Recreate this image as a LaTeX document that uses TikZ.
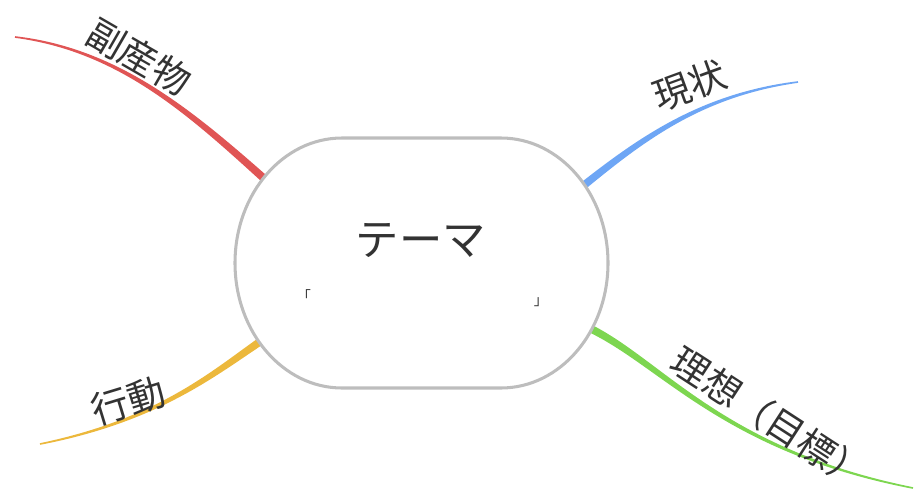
\documentclass[tikz,border=0pt]{standalone}
\usepackage{fontspec}
\newfontfamily\jpfont{Noto Sans CJK JP}
\usepackage{tikz}
\usetikzlibrary{calc}
\definecolor{ColRed}{RGB}{224,85,85}
\definecolor{ColBlue}{RGB}{110,166,245}
\definecolor{ColYellow}{RGB}{236,184,60}
\definecolor{ColGreen}{RGB}{125,214,80}
\definecolor{ColLine}{RGB}{189,189,189}
\definecolor{ColText}{RGB}{51,51,51}
\tikzstyle{ThemeBorder}=[draw=ColLine,fill=white,line width=2.6pt]
\tikzstyle{ThemeText}=[text=ColText,font=\jpfont\fontsize{37}{40}\selectfont,inner sep=0pt]
\tikzstyle{BracketText}=[text=ColText,font=\jpfont\fontsize{12}{14}\selectfont,inner sep=0pt]
\tikzstyle{BranchText}=[text=ColText,font=\jpfont\fontsize{32}{36}\selectfont,inner sep=0pt]
% tapered branch through the points #10..#13
\newcommand{\BranchFill}[2]{%
  \fill[#2]($(#10)!3.4pt!90:(#11)$) .. controls ($(#11)!2.6pt!-90:(#10)$) and ($(#12)!1.4pt!90:(#13)$) .. ($(#13)!.7pt!-90:(#12)$)
    -- ($(#13)!.7pt!90:(#12)$) .. controls ($(#12)!1.4pt!-90:(#13)$) and ($(#11)!2.6pt!90:(#10)$) .. ($(#10)!3.4pt!-90:(#11)$) -- cycle;}

\begin{document}
\begin{tikzpicture}[x=0.03cm,y=-0.03cm]
    \useasboundingbox(0,0)rectangle(914,494);
    % branch points
    \coordinate(r0)at(268,182);\coordinate(r1)at(192,114);\coordinate(r2)at(120,50);\coordinate(r3)at(15,37);
    \coordinate(b0)at(578,190);\coordinate(b1)at(640,140);\coordinate(b2)at(700,95);\coordinate(b3)at(798,82);
    \coordinate(y0)at(264,339);\coordinate(y1)at(215,372);\coordinate(y2)at(160,420);\coordinate(y3)at(40,444);
    \coordinate(g0)at(585,326);\coordinate(g1)at(660,360);\coordinate(g2)at(720,450);\coordinate(g3)at(913,488);
    \BranchFill{r}{ColRed}
    \BranchFill{b}{ColBlue}
    \BranchFill{y}{ColYellow}
    \BranchFill{g}{ColGreen}
    % theme
    \draw[ThemeBorder](342,138)--(501,138)arc[start angle=-90,end angle=90,x radius=107,y radius=125]
        --(342,388)arc[start angle=90,end angle=270,x radius=107,y radius=125]--cycle;
    \node[ThemeText](theme)at(421,240){テーマ};
    \node[BracketText](open)at(304,296){「};
    \node[BracketText](close)at(541,302){」};
    % labels
    \node[BranchText,rotate=-30](byproduct)at(139,57){副産物};
    \node[BranchText,rotate=20](now)at(690,85){現状};
    \node[BranchText,rotate=17](action)at(128,401){行動};
    \node[BranchText,rotate=-33](goal)at(770,418){理想（目標）};
\end{tikzpicture}
\end{document}
